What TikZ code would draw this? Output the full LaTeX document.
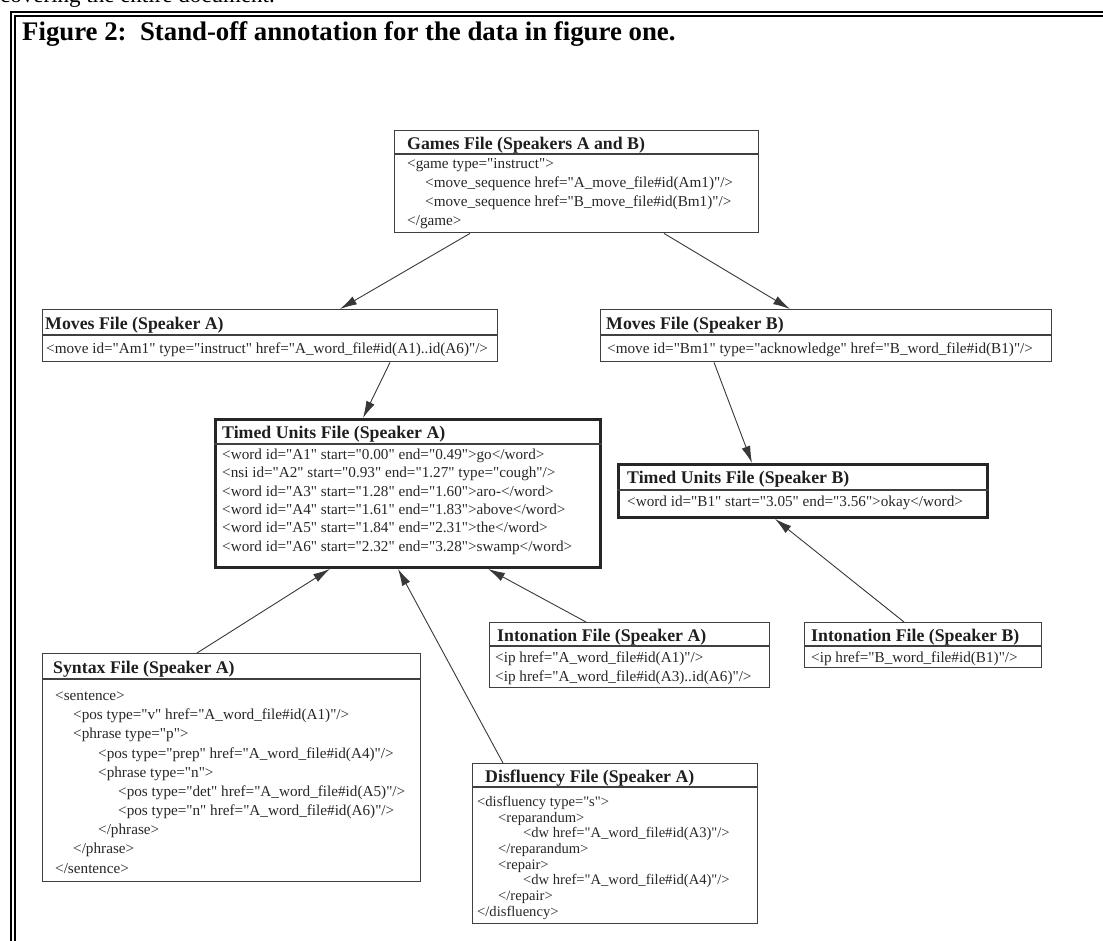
\documentclass[tikz,border=0pt]{standalone}
\usepackage{fontspec}
\setmainfont{Liberation Serif}[Ligatures=TeXOff]
\usetikzlibrary{arrows.meta,calc}
\newcommand\hdrfont{\fontsize{17.8pt}{20pt}\selectfont\bfseries}
\newcommand\rowfont{\fontsize{15.2pt}{18pt}\selectfont}
\newcommand\smrowfont{\fontsize{14.6pt}{17pt}\selectfont}
\newcommand\titlefont{\fontsize{26.8pt}{30pt}\selectfont\bfseries}
\newcommand\bodyfont{\fontsize{23pt}{27pt}\selectfont}
\tikzset{
  filebox/.style={draw=black!75, line width=1.4pt, inner sep=0pt, anchor=north west},
  timedbox/.style={filebox, draw=black!85, line width=2.9pt},
  sepline/.style={draw=black!75, line width=1.3pt},
  hdr/.style={font=\hdrfont, anchor=base west, inner sep=0pt, text=black!88},
  row/.style={font=\rowfont, anchor=base west, inner sep=0pt, text=black!85},
  srow/.style={font=\smrowfont, anchor=base west, inner sep=0pt, text=black!85},
  link/.style={draw=black!78, line width=0.9pt, -{Latex[length=17pt,width=9pt]}},
  frameline/.style={draw=black, line width=1.8pt}
}
\begin{document}
\begin{tikzpicture}[x=1pt,y=-1pt]
\useasboundingbox (0,0) rectangle (1103,941);
% outer frame (double line)
\draw[frameline] (11,945) -- (11,12) -- (1106,12);
\draw[frameline] (15,945) -- (15,16) -- (1106,16);
% running text and caption
\node[anchor=base west, inner sep=0pt, font=\bodyfont] (prev) at (0,3) {covering the entire document.};
\node[anchor=base west, inner sep=0pt, font=\titlefont] (title) at (22,41) {Figure 2:\ \ Stand-off annotation for the data in figure one.};

% ---------- Games file
\node[filebox, minimum width=364pt, minimum height=102pt] (games) at (394,130) {};
\draw[sepline] ($(games.north west)+(0,24)$) -- ($(games.north east)+(0,24)$);
\node[hdr] (gamesH) at (407,150) {Games File (Speakers A and B)};
\node[row] (g1) at (407,169) {<game type="instruct">};
\node[row] (g2) at (425,188) {<move\_sequence href="A\_move\_file\#id(Am1)"/>};
\node[row] (g3) at (425,207) {<move\_sequence href="B\_move\_file\#id(Bm1)"/>};
\node[row] (g4) at (407,226) {</game>};

% ---------- Moves A
\node[filebox, minimum width=455pt, minimum height=52pt] (movesA) at (42,309) {};
\draw[sepline] ($(movesA.north west)+(0,26)$) -- ($(movesA.north east)+(0,26)$);
\node[hdr] (movesAH) at (45,330) {Moves File (Speaker A)};
\node[row] (ma1) at (46,353) {<move id="Am1" type="instruct" href="A\_word\_file\#id(A1)..id(A6)"/>};

% ---------- Moves B
\node[filebox, minimum width=451pt, minimum height=52pt] (movesB) at (600,309) {};
\draw[sepline] ($(movesB.north west)+(0,26)$) -- ($(movesB.north east)+(0,26)$);
\node[hdr] (movesBH) at (606,330) {Moves File (Speaker B)};
\node[row] (mb1) at (607,353) {<move id="Bm1" type="acknowledge" href="B\_word\_file\#id(B1)"/>};

% ---------- Timed units A
\node[timedbox, minimum width=385pt, minimum height=148pt] (timedA) at (214,418) {};
\draw[sepline] ($(timedA.north west)+(0,26)$) -- ($(timedA.north east)+(0,26)$);
\node[hdr] (timedAH) at (222,438) {Timed Units File (Speaker A)};
\node[row] (ta1) at (222,459) {<word id="A1" start="0.00" end="0.49">go</word>};
\node[row] (ta2) at (222,477) {<nsi id="A2" start="0.93" end="1.27" type="cough"/>};
\node[row] (ta3) at (222,496) {<word id="A3" start="1.28" end="1.60">aro-</word>};
\node[row] (ta4) at (222,514) {<word id="A4" start="1.61" end="1.83">above</word>};
\node[row] (ta5) at (222,532) {<word id="A5" start="1.84" end="2.31">the</word>};
\node[row] (ta6) at (222,551) {<word id="A6" start="2.32" end="3.28">swamp</word>};

% ---------- Timed units B
\node[timedbox, minimum width=369pt, minimum height=53pt] (timedB) at (617,463) {};
\draw[sepline] ($(timedB.north west)+(0,27)$) -- ($(timedB.north east)+(0,27)$);
\node[hdr] (timedBH) at (627,483) {Timed Units File (Speaker B)};
\node[row] (tb1) at (627,506) {<word id="B1" start="3.05" end="3.56">okay</word>};

% ---------- Intonation A
\node[filebox, minimum width=280pt, minimum height=65pt] (intA) at (489,622) {};
\draw[sepline] ($(intA.north west)+(0,24)$) -- ($(intA.north east)+(0,24)$);
\node[hdr] (intAH) at (497,641) {Intonation File (Speaker A)};
\node[row] (ia1) at (495,662) {<ip href="A\_word\_file\#id(A1)"/>};
\node[row] (ia2) at (495,681) {<ip href="A\_word\_file\#id(A3)..id(A6)"/>};

% ---------- Intonation B
\node[filebox, minimum width=237pt, minimum height=45pt] (intB) at (804,622) {};
\draw[sepline] ($(intB.north west)+(0,24)$) -- ($(intB.north east)+(0,24)$);
\node[hdr] (intBH) at (811,641) {Intonation File (Speaker B)};
\node[row] (ib1) at (811,662) {<ip href="B\_word\_file\#id(B1)"/>};

% ---------- Syntax
\node[filebox, minimum width=378pt, minimum height=228pt] (syn) at (42,653) {};
\draw[sepline] ($(syn.north west)+(0,26)$) -- ($(syn.north east)+(0,26)$);
\node[hdr] (synH) at (53,673) {Syntax File (Speaker A)};
\node[row] (s1) at (55,700) {<sentence>};
\node[row] (s2) at (73,719) {<pos type="v" href="A\_word\_file\#id(A1)"/>};
\node[row] (s3) at (73,738) {<phrase type="p">};
\node[row] (s4) at (98,758) {<pos type="prep" href="A\_word\_file\#id(A4)"/>};
\node[row] (s5) at (98,777) {<phrase type="n">};
\node[row] (s6) at (118,796) {<pos type="det" href="A\_word\_file\#id(A5)"/>};
\node[row] (s7) at (118,815) {<pos type="n" href="A\_word\_file\#id(A6)"/>};
\node[row] (s8) at (98,834) {</phrase>};
\node[row] (s9) at (73,853) {</phrase>};
\node[row] (s10) at (55,873) {</sentence>};

% ---------- Disfluency
\node[filebox, minimum width=285pt, minimum height=160pt] (dis) at (472,763) {};
\draw[sepline] ($(dis.north west)+(0,24)$) -- ($(dis.north east)+(0,24)$);
\node[hdr] (disH) at (485,782) {Disfluency File (Speaker A)};
\node[srow] (d1) at (477,806) {<disfluency type="s">};
\node[srow] (d2) at (498,822) {<reparandum>};
\node[srow] (d3) at (523,837) {<dw href="A\_word\_file\#id(A3)"/>};
\node[srow] (d4) at (498,853) {</reparandum>};
\node[srow] (d5) at (498,869) {<repair>};
\node[srow] (d6) at (523,884) {<dw href="A\_word\_file\#id(A4)"/>};
\node[srow] (d7) at (498,900) {</repair>};
\node[srow] (d8) at (477,916) {</disfluency>};

% ---------- connectors
\draw[link] ($(games.south west)+(76,0)$) -- ($(movesA.north west)+(298,0)$);
\draw[link] ($(games.south west)+(270,0)$) -- ($(movesB.north west)+(190,0)$);
\draw[link] ($(movesA.south west)+(348,0)$) -- ($(timedA.north west)+(149,0)$);
\draw[link] ($(movesB.south west)+(114,0)$) -- ($(timedB.north west)+(135,0)$);
\draw[link] ($(syn.north west)+(155,0)$) -- ($(timedA.south west)+(116,0)$);
\draw[link] ($(dis.north west)+(31,0)$) -- ($(timedA.south west)+(184,0)$);
\draw[link] ($(intA.north west)+(97,0)$) -- ($(timedA.south west)+(274,0)$);
\draw[link] ($(intB.north west)+(100,0)$) -- ($(timedB.south west)+(158,0)$);
\end{tikzpicture}
\end{document}
